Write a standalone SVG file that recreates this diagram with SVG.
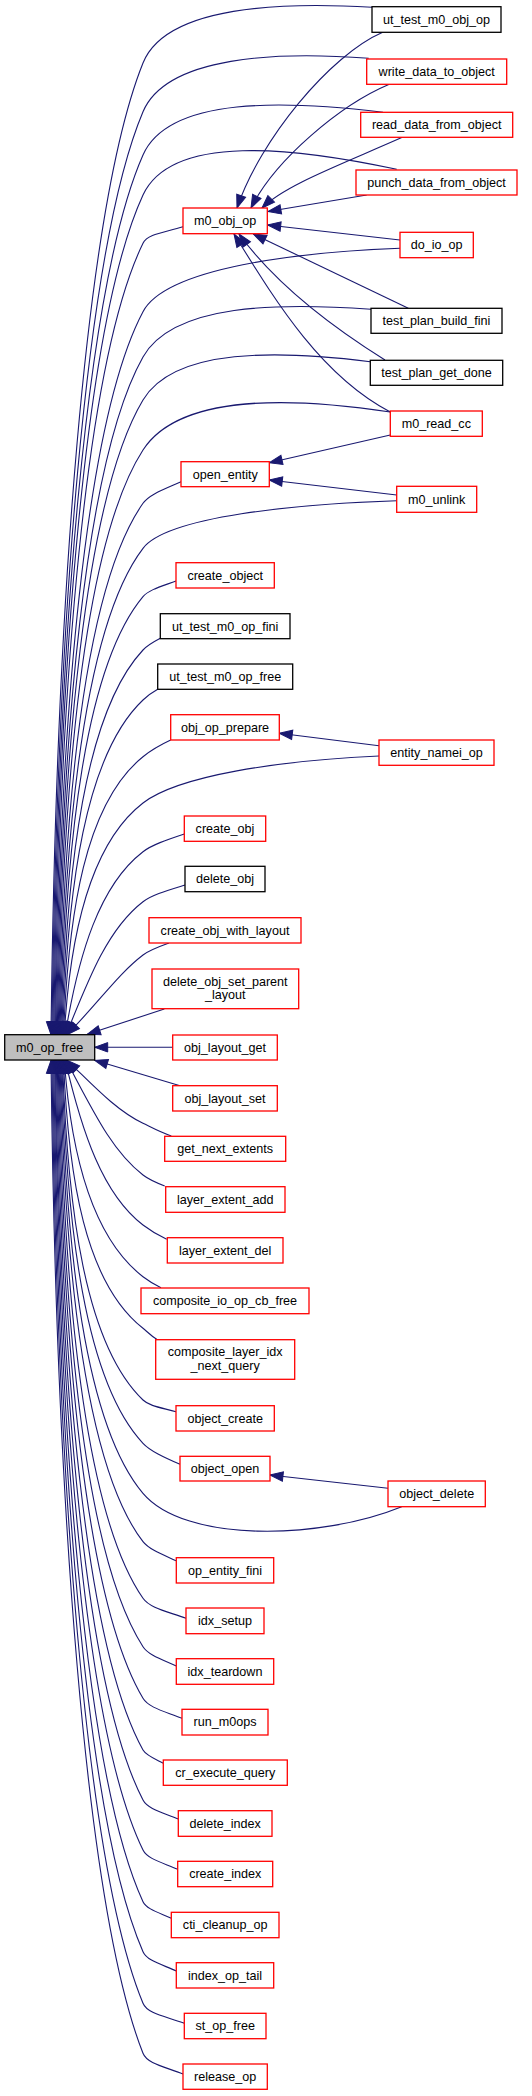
<svg xmlns="http://www.w3.org/2000/svg" width="532" height="2096" viewBox="0 0 532 2096">
<style>
.n rect{fill:#fff;stroke:#ff0000;stroke-width:1.3}
.k rect{fill:#fff;stroke:#000;stroke-width:1.3}
.r rect{fill:#bfbfbf;stroke:#000;stroke-width:1.3}
text{font-family:"Liberation Sans",Arial,Helvetica,sans-serif;font-size:12.6px;text-anchor:middle;fill:#000}
#edges path{fill:none;stroke:#191970;stroke-width:1.1;marker-end:url(#ah)}
</style>
<defs>
<marker id="ah" viewBox="-14 -6 15 12" refX="0" refY="0" markerWidth="15" markerHeight="12" markerUnits="userSpaceOnUse" orient="auto"><path d="M0,0 L-13,-4.7 L-13,4.7 Z" fill="#191970" stroke="#191970" stroke-width="1"/></marker>
</defs>
<rect width="532" height="2096" fill="#fff"/>
<g id="edges">
<path d="M372,7.3 C280.4,2 166.1,5.6 143,63 C85,207 56,607.2 51,1034.7"/>
<path d="M368.7,58.3 C278.4,51.3 166.7,55.6 143,111.7 C85,248.9 56.9,628.6 51.9,1034.7"/>
<path d="M383,112.3 C287,100.7 169.2,95.7 143,155 C85,286.2 57.8,647.6 52.8,1034.7"/>
<path d="M396.7,169.3 C295.2,147.7 171.7,132.8 143,195 C85,320.6 58.7,665.2 53.7,1034.7"/>
<path d="M183,226.7 C165,232.5 147.7,233.6 143,243.3 C85,362.1 59.6,686.5 54.6,1034.7"/>
<path d="M400,248.3 C300,252 166.5,267.5 143,311.7 C85,420.9 60.4,716.6 55.4,1034.7"/>
<path d="M371,309.3 C279.8,302.7 173.2,303.3 143,357 C85,459.9 61.3,736.5 56.3,1034.7"/>
<path d="M370.3,361.7 C279.4,350.3 174.6,347.3 143,400 C85,496.9 62.2,755.4 57.2,1034.7"/>
<path d="M390.3,412 C291.4,397 179.2,393.9 143,450 C85,539.9 63.1,777.4 58.1,1034.7"/>
<path d="M181,481.7 C163.9,489.3 149.3,494.4 143,503.3 C85,585.7 64,800.9 59,1034.7"/>
<path d="M396.7,500.7 C296.7,504 167.2,516.5 143,548.3 C85,624.4 64.9,820.7 59.9,1034.7"/>
<path d="M176,581 C161.1,586.5 148.8,589.7 143,596.7 C85,666 65.8,842 60.8,1034.7"/>
<path d="M160.3,638.3 C152.5,642.4 146.6,646.2 143,650 C85,711.9 66.7,865.4 61.7,1034.7"/>
<path d="M157.7,689.3 C151.1,693 146.3,696.9 143,700 C85,754.9 67.6,887.4 62.6,1034.7"/>
<path d="M170.7,740 C158.2,745.8 149.3,751.6 143,756.7 C85,803.6 68.5,912.4 63.5,1034.7"/>
<path d="M379,756 C279,760.5 178.7,775.6 143,803 C90.5,843.4 70,932.8 64.3,1034.7"/>
<path d="M184.3,834 C165.7,840.2 151.9,844.9 143,851.7 C99.3,885.3 78.6,954.2 65.2,1034.7"/>
<path d="M185,885 C166.1,890.8 152,894.8 143,901.7 C108.4,928.3 89.5,976.2 66.1,1034.7"/>
<path d="M169,943 C157.3,947.2 148.7,950.6 143,955 C118,974.2 101.1,999.6 67,1034.7"/>
<path d="M164.3,1009 L87.3,1034.3"/>
<path d="M172.7,1047.3 L94.7,1047.3"/>
<path d="M180,1085.7 L94.7,1060.3"/>
<path d="M171.3,1136 C158.6,1131.6 150,1126.6 143,1123.3 C115,1110 90,1082 67,1060.3"/>
<path d="M164.7,1186 C154.9,1182.2 147.8,1178.7 143,1175 C111.7,1150.9 93.1,1110.9 66.1,1060.3"/>
<path d="M166.7,1239.3 C156,1234.3 148.5,1229.2 143,1225 C102.6,1193.9 82.2,1132.9 65.2,1060.3"/>
<path d="M161,1287.7 C152.9,1283.9 147.2,1279.9 143,1276.7 C93.2,1238.4 71,1155.6 64.3,1060.3"/>
<path d="M156.7,1339.3 C150.5,1335.5 146.5,1331 143,1328.3 C85,1282.7 68.4,1178.3 63.4,1060.3"/>
<path d="M176,1411.7 C161.2,1407.6 149.3,1406.1 143,1400 C85,1344.4 67.5,1209.9 62.5,1060.3"/>
<path d="M180,1464.3 C163.4,1457 150.3,1451 143,1443.3 C85,1381.6 66.7,1229 61.7,1060.3"/>
<path d="M401.7,1506.7 C320,1540 185,1543 143,1493.3 C85,1424.6 65.8,1251 60.8,1060.3"/>
<path d="M176,1560.7 C161.2,1554 148.8,1549.2 143,1541.7 C85,1466.3 64.9,1272.2 59.9,1060.3"/>
<path d="M186,1618.3 C166.7,1611.3 149.8,1608.1 143,1598.3 C85,1514.9 64,1297.2 59,1060.3"/>
<path d="M176.3,1666 C161.3,1659.2 148.2,1654.8 143,1646.7 C85,1556.6 63.1,1318.4 58.1,1060.3"/>
<path d="M182,1718.3 C164.5,1711.3 148.6,1707.7 143,1698.3 C85,1600.9 62.2,1341.2 57.2,1060.3"/>
<path d="M163.3,1763.3 C154.2,1758.6 146,1755.3 143,1750 C85,1645.4 61.3,1363.9 56.3,1060.3"/>
<path d="M178.3,1819 C162.4,1812.4 147.6,1808.9 143,1800 C85,1688.4 60.4,1385.9 55.4,1060.3"/>
<path d="M177.7,1869.3 C162.1,1862.5 147.3,1858.9 143,1850 C85,1731.4 59.6,1407.9 54.6,1060.3"/>
<path d="M171.3,1918.3 C158.6,1912.5 146.4,1909.1 143,1901.7 C85,1775.9 58.7,1430.6 53.7,1060.3"/>
<path d="M176.3,1971 C161.3,1964.2 146.8,1960.5 143,1951.7 C85,1818.9 57.8,1452.6 52.8,1060.3"/>
<path d="M184.3,2023.3 C165.7,2016.3 147.4,2013.9 143,2003.3 C85,1863.2 56.9,1475.4 51.9,1060.3"/>
<path d="M183,2074 C165,2066.8 147.1,2063.8 143,2053.3 C85,1906.2 56,1497.4 51,1060.3"/>
<path d="M382.7,32.3 C330,55 260,140 237,208"/>
<path d="M389.3,84.3 C340,105 275,160 251,208"/>
<path d="M402.3,137.3 C340,165 285,185 262,208"/>
<path d="M366.7,195 L268,211.5"/>
<path d="M400,240 L267.7,225"/>
<path d="M408.3,308.3 L253.3,234"/>
<path d="M385,360 C345,335 280,290 239,234"/>
<path d="M390.3,412 C320,375 275,300 234,234"/>
<path d="M390.3,435 L269.3,462.7"/>
<path d="M396.7,495 L269.3,480"/>
<path d="M379,745.7 L279.3,733.3"/>
<path d="M388,1488.3 L270,1475"/>
</g>
<g id="n_ut_test_m0_obj_op" class="k"><rect x="372" y="6.7" width="129" height="25.6"/><text x="436.5" y="23.8">ut_test_m0_obj_op</text></g>
<g id="n_write_data_to_object" class="n"><rect x="366.7" y="59" width="140" height="25.3"/><text x="436.7" y="75.9">write_data_to_object</text></g>
<g id="n_read_data_from_object" class="n"><rect x="360.7" y="112.3" width="152" height="25"/><text x="436.7" y="129.1">read_data_from_object</text></g>
<g id="n_punch_data_from_object" class="n"><rect x="356" y="170" width="161" height="25"/><text x="436.5" y="186.8">punch_data_from_object</text></g>
<g id="n_m0_obj_op" class="n"><rect x="183" y="208" width="84.3" height="25.7"/><text x="225.2" y="225.1">m0_obj_op</text></g>
<g id="n_do_io_op" class="n"><rect x="400" y="232.3" width="73.3" height="25.4"/><text x="436.7" y="249.3">do_io_op</text></g>
<g id="n_test_plan_build_fini" class="k"><rect x="371" y="308.3" width="131" height="25"/><text x="436.5" y="325.1">test_plan_build_fini</text></g>
<g id="n_test_plan_get_done" class="k"><rect x="370.3" y="360.3" width="132.4" height="25"/><text x="436.5" y="377.1">test_plan_get_done</text></g>
<g id="n_m0_read_cc" class="n"><rect x="390.3" y="411" width="92" height="25.3"/><text x="436.3" y="427.9">m0_read_cc</text></g>
<g id="n_open_entity" class="n"><rect x="181" y="461.7" width="88.3" height="25"/><text x="225.2" y="478.5">open_entity</text></g>
<g id="n_m0_unlink" class="n"><rect x="396.7" y="486.3" width="80" height="26"/><text x="436.7" y="503.6">m0_unlink</text></g>
<g id="n_create_object" class="n"><rect x="176" y="562.7" width="98.3" height="25.3"/><text x="225.2" y="579.6">create_object</text></g>
<g id="n_ut_test_m0_op_fini" class="k"><rect x="160.3" y="613.7" width="129.7" height="25"/><text x="225.2" y="630.5">ut_test_m0_op_fini</text></g>
<g id="n_ut_test_m0_op_free" class="k"><rect x="157.7" y="664" width="135" height="25.3"/><text x="225.2" y="680.9">ut_test_m0_op_free</text></g>
<g id="n_obj_op_prepare" class="n"><rect x="170.7" y="714.7" width="108.6" height="25.3"/><text x="225" y="731.6">obj_op_prepare</text></g>
<g id="n_entity_namei_op" class="n"><rect x="379" y="740" width="115" height="25.3"/><text x="436.5" y="756.9">entity_namei_op</text></g>
<g id="n_create_obj" class="n"><rect x="184.3" y="816" width="81.4" height="25.3"/><text x="225" y="832.9">create_obj</text></g>
<g id="n_delete_obj" class="k"><rect x="185" y="866.3" width="80" height="25.4"/><text x="225" y="883.3">delete_obj</text></g>
<g id="n_create_obj_with_layout" class="n"><rect x="149" y="917.7" width="152" height="25.3"/><text x="225" y="934.6">create_obj_with_layout</text></g>
<g id="n_delete_obj_set_parent_layout" class="n"><rect x="152" y="969" width="146.7" height="39.7"/><text x="225.3" y="985.6">delete_obj_set_parent</text><text x="225.3" y="999.3">_layout</text></g>
<g id="n_m0_op_free" class="r"><rect x="4.7" y="1034.7" width="90" height="25.3"/><text x="49.7" y="1051.6">m0_op_free</text></g>
<g id="n_obj_layout_get" class="n"><rect x="172.7" y="1035" width="104.6" height="25"/><text x="225" y="1051.8">obj_layout_get</text></g>
<g id="n_obj_layout_set" class="n"><rect x="172.7" y="1085.7" width="104.6" height="25.3"/><text x="225" y="1102.6">obj_layout_set</text></g>
<g id="n_get_next_extents" class="n"><rect x="164.7" y="1136.3" width="121" height="25"/><text x="225.2" y="1153.1">get_next_extents</text></g>
<g id="n_layer_extent_add" class="n"><rect x="165.7" y="1186.7" width="119.3" height="25.6"/><text x="225.3" y="1203.8">layer_extent_add</text></g>
<g id="n_layer_extent_del" class="n"><rect x="167.3" y="1237.7" width="115.7" height="25.3"/><text x="225.2" y="1254.6">layer_extent_del</text></g>
<g id="n_composite_io_op_cb_free" class="n"><rect x="141" y="1288" width="168" height="25.7"/><text x="225" y="1305.1">composite_io_op_cb_free</text></g>
<g id="n_composite_layer_idx_next_query" class="n"><rect x="155.7" y="1339.7" width="139" height="39.6"/><text x="225.2" y="1356.3">composite_layer_idx</text><text x="225.2" y="1369.8">_next_query</text></g>
<g id="n_object_create" class="n"><rect x="176" y="1405.7" width="98.3" height="25.3"/><text x="225.2" y="1422.6">object_create</text></g>
<g id="n_object_open" class="n"><rect x="180" y="1456.3" width="90" height="24.7"/><text x="225" y="1472.9">object_open</text></g>
<g id="n_object_delete" class="n"><rect x="388" y="1481" width="97.3" height="25.7"/><text x="436.7" y="1498.1">object_delete</text></g>
<g id="n_op_entity_fini" class="n"><rect x="176.3" y="1557.7" width="97.4" height="25.3"/><text x="225" y="1574.6">op_entity_fini</text></g>
<g id="n_idx_setup" class="n"><rect x="186" y="1608" width="78" height="25.7"/><text x="225" y="1625.1">idx_setup</text></g>
<g id="n_idx_teardown" class="n"><rect x="176.3" y="1658.7" width="97.4" height="25.6"/><text x="225" y="1675.8">idx_teardown</text></g>
<g id="n_run_m0ops" class="n"><rect x="182" y="1709.3" width="86" height="25.7"/><text x="225" y="1726.4">run_m0ops</text></g>
<g id="n_cr_execute_query" class="n"><rect x="163.3" y="1760" width="124" height="25.3"/><text x="225.3" y="1776.9">cr_execute_query</text></g>
<g id="n_delete_index" class="n"><rect x="178.3" y="1810.7" width="93.7" height="25.6"/><text x="225.2" y="1827.8">delete_index</text></g>
<g id="n_create_index" class="n"><rect x="177.7" y="1861.3" width="95" height="25.4"/><text x="225.2" y="1878.3">create_index</text></g>
<g id="n_cti_cleanup_op" class="n"><rect x="171.3" y="1912.3" width="107.7" height="25.4"/><text x="225.2" y="1929.3">cti_cleanup_op</text></g>
<g id="n_index_op_tail" class="n"><rect x="176.3" y="1962.7" width="97.4" height="25.3"/><text x="225" y="1979.6">index_op_tail</text></g>
<g id="n_st_op_free" class="n"><rect x="184.3" y="2013.3" width="81.7" height="25.4"/><text x="225.2" y="2030.3">st_op_free</text></g>
<g id="n_release_op" class="n"><rect x="183" y="2064" width="84.3" height="25.3"/><text x="225.2" y="2080.9">release_op</text></g>
</svg>
